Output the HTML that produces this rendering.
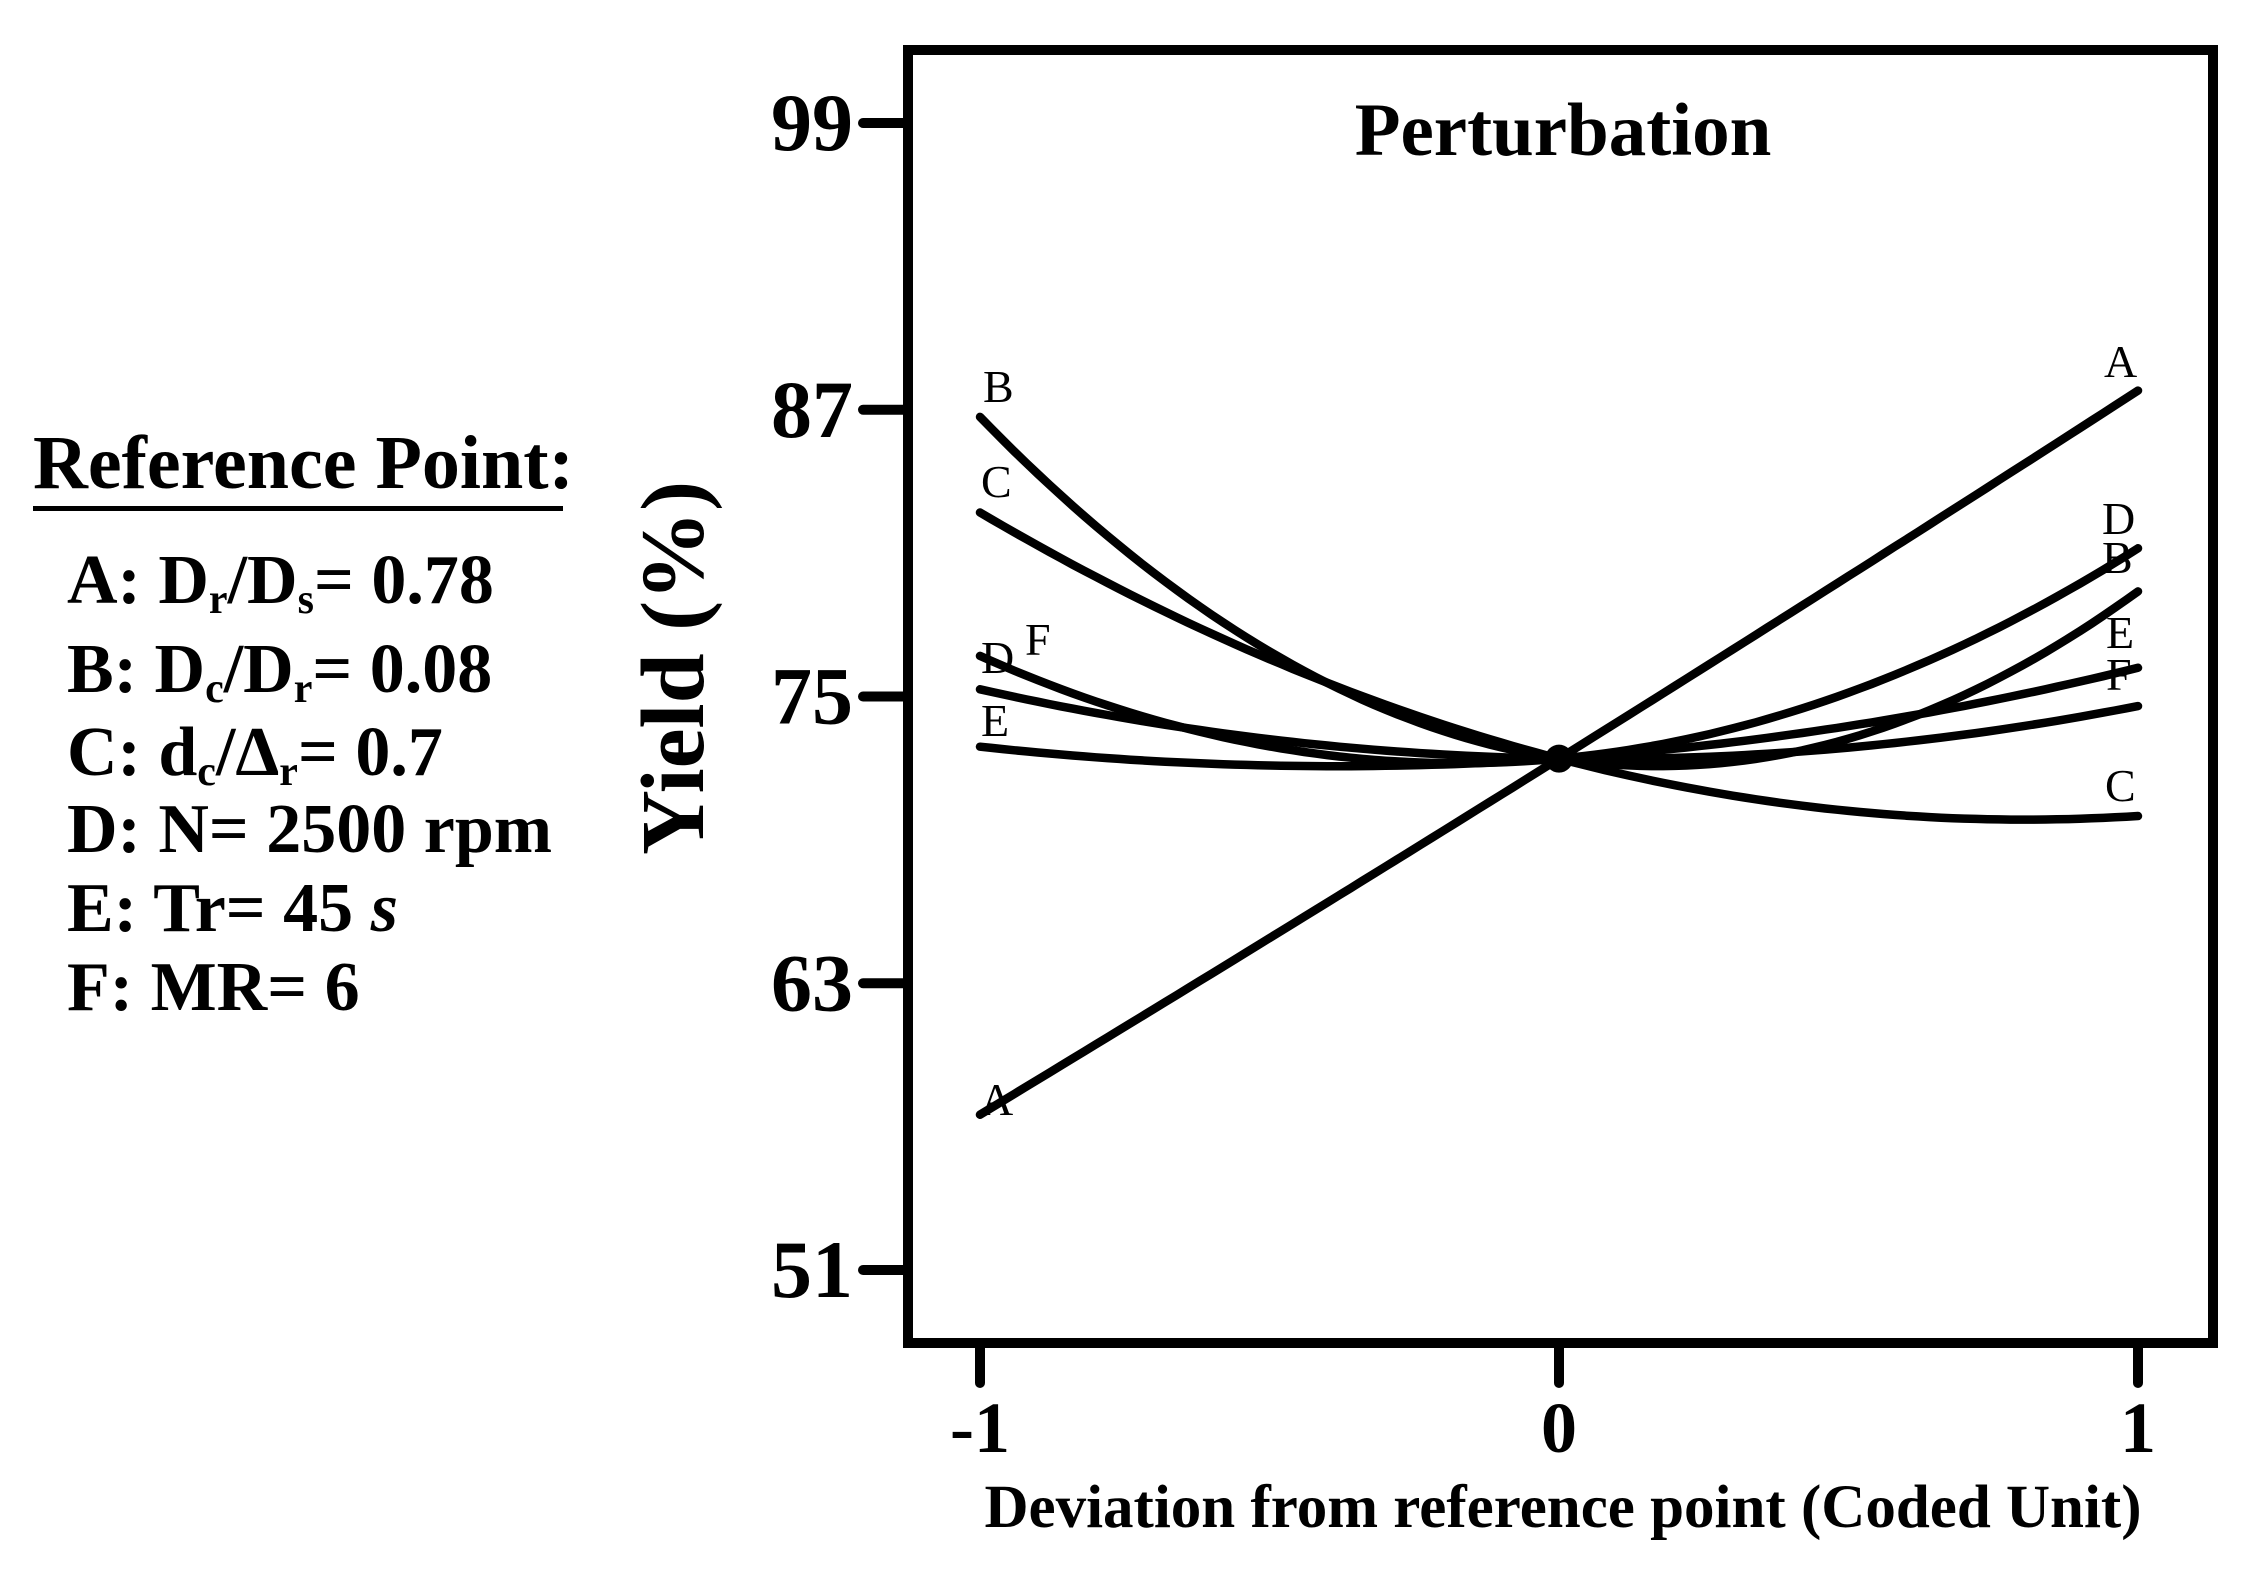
<!DOCTYPE html>
<html><head><meta charset="utf-8"><style>
html,body{margin:0;padding:0;background:#fff;}
svg{display:block;font-family:"Liberation Serif",serif;}
</style></head><body>
<svg id="chart" width="2255" height="1575" viewBox="0 0 2255 1575" xmlns="http://www.w3.org/2000/svg">
<g font-weight="bold" fill="#000">
<text x="33" y="488" font-size="76">Reference Point:</text>
<rect x="33" y="506" width="530" height="5"/>
<text x="67" y="603" font-size="70">A: D<tspan font-size="42" dy="10">r</tspan><tspan dy="-10">/D</tspan><tspan font-size="42" dy="10">s</tspan><tspan dy="-10">= 0.78</tspan></text>
<text x="67" y="692" font-size="70">B: D<tspan font-size="42" dy="10">c</tspan><tspan dy="-10">/D</tspan><tspan font-size="42" dy="10">r</tspan><tspan dy="-10">= 0.08</tspan></text>
<text x="67" y="775" font-size="70">C: d<tspan font-size="42" dy="10">c</tspan><tspan dy="-10">/Δ</tspan><tspan font-size="42" dy="10">r</tspan><tspan dy="-10">= 0.7</tspan></text>
<text x="67" y="852" font-size="70">D: N= 2500 rpm</text>
<text x="67" y="931" font-size="70">E: Tr= 45 <tspan font-style="italic">s</tspan></text>
<text x="67" y="1010" font-size="70">F: MR= 6</text>
</g>
<text x="0" y="0" transform="translate(703,668) rotate(-90)" text-anchor="middle" font-size="90" font-weight="bold">Yield (%)</text>
<text x="1563" y="1527" text-anchor="middle" font-size="61" font-weight="bold">Deviation from reference point (Coded Unit)</text>
<text x="1563" y="155" text-anchor="middle" font-size="75" font-weight="bold">Perturbation</text>
<rect x="908" y="50" width="1305" height="1293" fill="none" stroke="#000" stroke-width="10"/>
<g id="yticks"></g>
<g id="xticks"></g>
<g id="series"></g>
</svg>
<script>
const seriesNames = ["A","B","C","D","E","F"];
const xPoints = [-1, 0, 1];
const valuesA = [57.5, 72.4, 87.8];
const valuesB = [86.7, 72.4, 79.4];
const valuesC = [82.7, 72.4, 70.0];
const valuesD = [76.7, 72.4, 81.2];
const valuesE = [72.9, 72.4, 76.2];
const valuesF = [75.3, 72.4, 74.6];
const yTickValues = [99, 87, 75, 63, 51];
const xTickValues = [-1, 0, 1];
const xTickLabels = ["-1", "0", "1"];

const NS = "http://www.w3.org/2000/svg";
function xs(v){ return 1559 + v * 579; }
function ys(v){ return 123 + (99 - v) * (1147 / 48); }
function mk(tag, attrs, parent){ const e = document.createElementNS(NS, tag); for (const k in attrs) e.setAttribute(k, attrs[k]); parent.appendChild(e); return e; }

const yt = document.getElementById('yticks');
yTickValues.forEach(v => {
  const l = mk('line', {x1: 863, x2: 908, y1: ys(v), y2: ys(v), stroke: '#000', 'stroke-width': 10, 'stroke-linecap': 'round'}, yt);
  
  
  const t = mk('text', {x: 853, y: ys(v) + 27, 'text-anchor': 'end', 'font-size': 82, 'font-weight': 'bold'}, yt);
  t.textContent = String(v);
  
  
});
const xt = document.getElementById('xticks');
xTickValues.forEach((v, i) => {
  const l = mk('line', {x1: xs(v), x2: xs(v), y1: 1343, y2: 1383, stroke: '#000', 'stroke-width': 10, 'stroke-linecap': 'round'}, xt);
  
  
  const t = mk('text', {x: xs(v), y: 1452, 'text-anchor': 'middle', 'font-size': 72, 'font-weight': 'bold'}, xt);
  t.textContent = xTickLabels[i];
  
  
});

const allValues = [valuesA, valuesB, valuesC, valuesD, valuesE, valuesF];
const labelLeft = {A:[980,1115],B:[983,402],C:[981,497],D:[981,673],E:[981,736],F:[1025,655]};
const labelRight = {A:[2104,377],D:[2102,534],B:[2102,573],E:[2106,648],F:[2106,690],C:[2105,801]};
const sg = document.getElementById('series');
seriesNames.forEach((name, si) => {
  const v = allValues[si];
  const a = v[1], b = (v[2] - v[0]) / 2, c = (v[2] + v[0]) / 2 - v[1];
  let d = '';
  for (let i = 0; i <= 100; i++) {
    const x = -1 + i * 0.02;
    const y = a + b * x + c * x * x;
    d += (i ? 'L' : 'M') + xs(x).toFixed(1) + ' ' + ys(y).toFixed(1);
  }
  const p = mk('path', {d: d, fill: 'none', stroke: '#000', 'stroke-width': 8.5, 'stroke-linecap': 'round'}, sg);
  
  
  const L = labelLeft[name], R = labelRight[name];
  const t1 = mk('text', {x: L[0], y: L[1], 'font-size': 46}, sg);
  t1.textContent = name;
  
  
  const t2 = mk('text', {x: R[0], y: R[1], 'font-size': 46}, sg);
  t2.textContent = name;
  
  
});
const dot = mk('circle', {cx: xs(0), cy: ys(valuesA[1]), r: 14, fill: '#000'}, sg);


</script>
</body></html>
